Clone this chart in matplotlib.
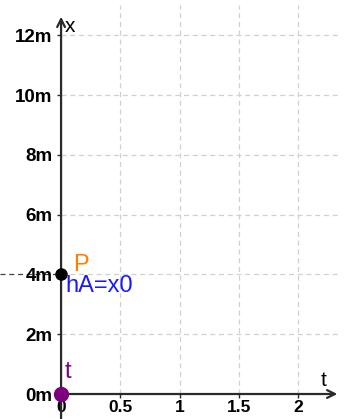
import matplotlib.pyplot as plt

# -----------------------------
# Data
# -----------------------------
t_ticks = [0, 0.5, 1, 1.5, 2]
t_labels = ["0", "0.5", "1", "1.5", "2"]
x_ticks = [0, 2, 4, 6, 8, 10, 12]
x_labels = ["0m", "2m", "4m", "6m", "8m", "10m", "12m"]
p_point = (0, 4)       # P, hA = x0
t_point = (0, 0)       # t

t_min, t_max = -0.515, 2.42
x_min, x_max = -0.836, 13.18

plt.rcParams["font.family"] = ["Liberation Sans", "DejaVu Sans"]

fig = plt.figure(figsize=(3.48, 4.19), dpi=100)
ax = fig.add_axes([0, 0, 1, 1])
ax.set_xlim(t_min, t_max)
ax.set_ylim(x_min, x_max)
ax.set_facecolor("white")

# -----------------------------
# Grid (only in the positive quadrant)
# -----------------------------
grid_kw = dict(color="#d0d0d0", lw=0.9, ls=(0, (4, 3)), zorder=0)
for v in x_ticks[1:]:
    ax.plot([0, 2.36], [v, v], **grid_kw)
for v in t_ticks[1:]:
    ax.plot([v, v], [0, 13.0], **grid_kw)

# -----------------------------
# Axes with arrows
# -----------------------------
for s in ["top", "right", "left", "bottom"]:
    ax.spines[s].set_visible(False)
ax.spines["left"].set_position(("data", 0))
ax.spines["bottom"].set_position(("data", 0))

axis_col = "#2a2a2a"
ax.annotate("", xy=(0, 12.62), xytext=(0, x_min),
            arrowprops=dict(arrowstyle="->", lw=1.6, color=axis_col,
                            mutation_scale=14, shrinkA=0, shrinkB=0), zorder=2)
ax.annotate("", xy=(2.33, 0), xytext=(0, 0),
            arrowprops=dict(arrowstyle="->", lw=1.6, color=axis_col,
                            mutation_scale=14, shrinkA=0, shrinkB=0), zorder=2)

ax.set_xticks(t_ticks)
ax.set_xticklabels(t_labels, fontsize=12.5, fontweight="bold")
ax.set_yticks(x_ticks)
ax.set_yticklabels(x_labels, fontsize=13.5, fontweight="bold")
ax.tick_params(axis="both", direction="out", length=3, width=1,
               color=axis_col)
ax.tick_params(axis="x", pad=1)
ax.tick_params(axis="y", pad=3)

ax.text(0.035, 12.3, "x", fontsize=15, va="center", ha="left")
ax.text(2.19, 0.45, "t", fontsize=15, va="center", ha="left")

# -----------------------------
# Dashed guide and points
# -----------------------------
ax.plot([t_min, p_point[0]], [p_point[1], p_point[1]],
        color="#404040", lw=0.9, ls=(0, (4, 3)), zorder=1)

ax.plot(*p_point, "o", color="black", ms=8, zorder=4)
ax.text(0.105, 4.33, "P", color="#ff7f00", fontsize=17, va="center")
ax.text(0.035, 3.6, "hA=x0", color="#1a1aff", fontsize=17, va="center")

ax.plot(*t_point, "o", color="#7f007f", ms=10, zorder=4)
ax.text(0.03, 0.75, "t", color="#7f007f", fontsize=17, va="center")

fig.savefig("out.png", dpi=100)
